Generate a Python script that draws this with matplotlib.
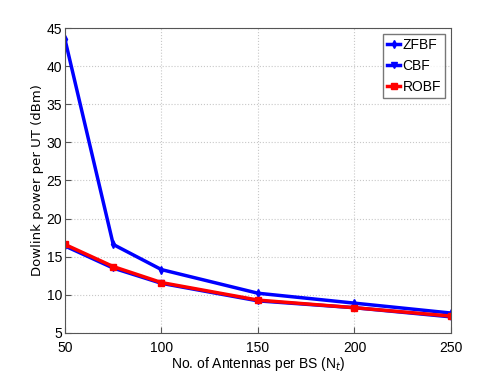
import matplotlib
matplotlib.use("Agg")
import matplotlib.pyplot as plt

# data
antennas = [50, 75, 100, 150, 200, 250]
zfbf = [43.5, 16.6, 13.3, 10.2, 8.9, 7.6]
cbf = [16.4, 13.5, 11.5, 9.2, 8.3, 7.1]
robf = [16.6, 13.7, 11.6, 9.3, 8.3, 7.2]

plt.rcParams['font.family'] = ['Liberation Sans Narrow', 'Liberation Sans', 'DejaVu Sans']
plt.rcParams['font.size'] = 10

fig = plt.figure(figsize=(4.98, 3.74), dpi=100)
ax = fig.add_axes([0.1305, 0.11, 0.775, 0.815])

ax.plot(antennas, zfbf, color='blue', marker='d', markersize=4, linewidth=2.5, label='ZFBF')
ax.plot(antennas, cbf, color='blue', marker='v', markersize=4, linewidth=2.5, label='CBF')
ax.plot(antennas, robf, color='red', marker='s', markersize=4, linewidth=2.5, label='ROBF')

ax.set_xlim(50, 250)
ax.set_ylim(5, 45)
ax.set_xticks([50, 100, 150, 200, 250])
ax.set_yticks(range(5, 46, 5))
ax.tick_params(direction='in', length=4, color='#555555')
ax.tick_params(axis='y', pad=2)
ax.tick_params(axis='x', pad=6)
ax.grid(True, linestyle=':', color='#c8c8c8', linewidth=0.8)
for s in ax.spines.values():
    s.set_color('#555555')

ax.set_xlabel('No. of Antennas per BS (N$_t$)', labelpad=0)
ax.set_ylabel('Dowlink power per UT (dBm)', family=['DejaVu Sans'], fontsize=9.5, labelpad=2)

leg = ax.legend(loc='upper right', fancybox=False, handlelength=0.9, handletextpad=0.2,
                borderpad=0.3, labelspacing=0.5, borderaxespad=0.4)
leg.get_frame().set_edgecolor('#555555')

fig.savefig('out.png', dpi=100)
